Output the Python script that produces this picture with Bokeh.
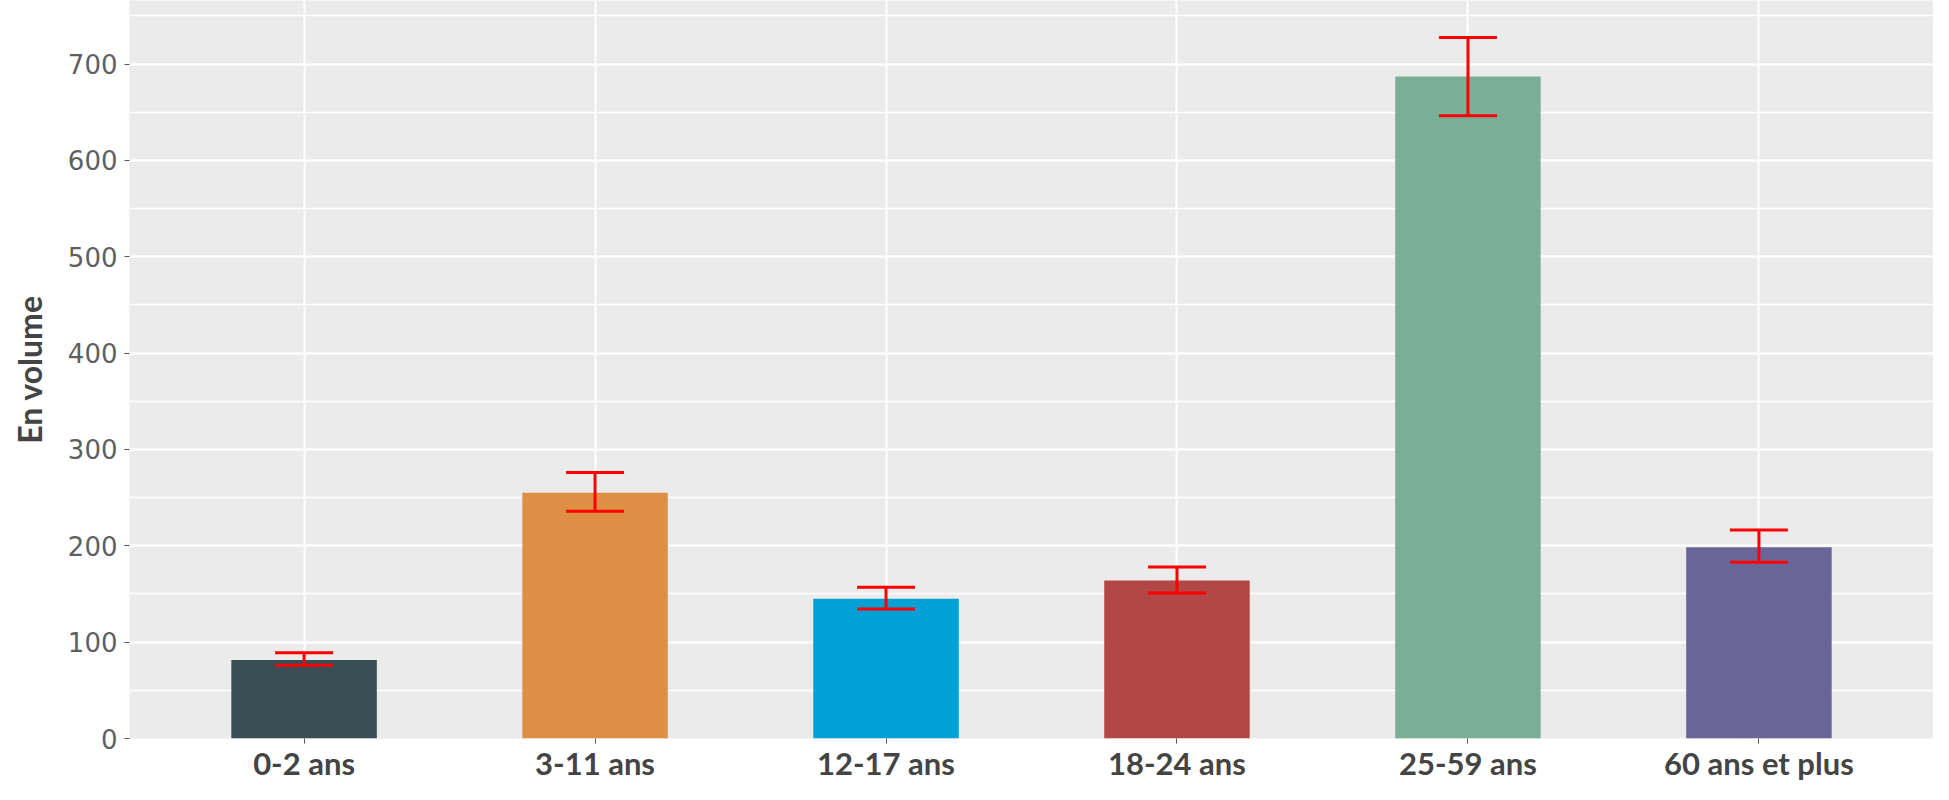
from bokeh.plotting import figure
from bokeh.models import ColumnDataSource, Whisker, TeeHead, FactorRange, Range1d, SingleIntervalTicker
from bokeh.embed import file_html
from bokeh.resources import INLINE

# ---- data ----
categories = ["0-2 ans", "3-11 ans", "12-17 ans", "18-24 ans", "25-59 ans", "60 ans et plus"]
volumes = [81.5, 255, 145, 164, 687, 198.5]
err_lower = [76, 236, 134.5, 151, 646.5, 183]
err_upper = [89, 276, 157, 178, 727.5, 216.5]
bar_colors = ["#374E55", "#DF8F44", "#00A1D5", "#B24745", "#79AF97", "#6A6599"]
y_title = "En volume"

src = ColumnDataSource(dict(cat=categories, vol=volumes, lo=err_lower, hi=err_upper, col=bar_colors))

p = figure(
    width=1933, height=784,
    x_range=FactorRange(*categories, range_padding=0.1, range_padding_units="absolute"),
    y_range=Range1d(0, 766),
    output_backend="svg", toolbar_location=None,
    min_border_top=0, min_border_right=0, min_border_left=129, min_border_bottom=0,
)

p.background_fill_color = "#EBEBEB"
p.border_fill_color = "white"
p.outline_line_color = None

p.vbar(x="cat", top="vol", width=0.5, source=src, fill_color="col", line_color=None)

wh = Whisker(base="cat", lower="lo", upper="hi", source=src,
             line_color="red", line_width=3, level="overlay",
             upper_head=TeeHead(size=58, line_color="red", line_width=3),
             lower_head=TeeHead(size=58, line_color="red", line_width=3))
p.add_layout(wh)

# grid
p.ygrid.ticker = SingleIntervalTicker(interval=100, num_minor_ticks=2)
p.ygrid.grid_line_color = "white"
p.ygrid.grid_line_width = 2
p.ygrid.minor_grid_line_color = "white"
p.ygrid.minor_grid_line_width = 1.5
p.xgrid.grid_line_color = "white"
p.xgrid.grid_line_width = 2

# y axis
p.yaxis.ticker = SingleIntervalTicker(interval=100, num_minor_ticks=0)
p.yaxis.axis_line_color = None
p.yaxis.major_tick_line_color = "#555555"
p.yaxis.major_tick_in = 0
p.yaxis.major_tick_out = 5
p.yaxis.minor_tick_line_color = None
p.yaxis.major_label_text_font = "DejaVu Sans"
p.yaxis.major_label_text_font_size = "26px"
p.yaxis.major_label_text_color = "#5f5f5f"
p.yaxis.major_label_standoff = 7
p.yaxis.axis_label = y_title
p.yaxis.axis_label_text_font = "Lato"
p.yaxis.axis_label_text_font_style = "bold"
p.yaxis.axis_label_text_font_size = "32px"
p.yaxis.axis_label_text_color = "#444444"
p.yaxis.axis_label_standoff = 16

# x axis
p.xaxis.axis_line_color = None
p.xaxis.major_tick_line_color = "#555555"
p.xaxis.major_tick_in = 0
p.xaxis.major_tick_out = 5
p.xaxis.major_label_text_font = "Lato"
p.xaxis.major_label_text_font_style = "bold"
p.xaxis.major_label_text_font_size = "31px"
p.xaxis.major_label_text_color = "#444444"
p.xaxis.major_label_standoff = 0

open("out.html", "w").write(file_html(p, INLINE))
